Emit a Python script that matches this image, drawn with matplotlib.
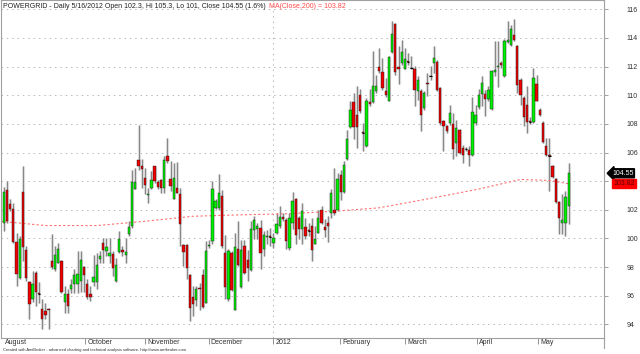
import numpy as np
import matplotlib.pyplot as plt
from matplotlib.lines import Line2D

plt.rcParams['font.family'] = ['Liberation Sans', 'DejaVu Sans']

# ── Daily OHLC, POWERGRID, late Aug 2011 .. 16 May 2012 ──────────────────────
opens = [
    101.05, 103.37, 102.42, 102.09, 99.74, 97.21, 103.23, 99.19, 96.95, 95.74,
    97.6, 96.2, 95.09, 94.9, 95.09, 98.42, 97.84, 98.3, 98.42, 95.58,
    96.09, 96.49, 96.84, 96.84, 97.02, 98.0, 96.84, 96.09, 96.95, 96.95,
    98.58, 99.7, 99.12, 98.77, 98.88, 97.02, 99.05, 99.19, 98.81, 100.28,
    100.86, 103.47, 105.51, 105.05, 104.23, 103.0, 103.49, 105.05, 103.95, 104.05,
    103.53, 105.79, 104.12, 102.77, 103.53, 103.07, 99.51, 99.51, 97.42, 95.91,
    95.7, 96.55, 97.42, 95.51, 99.45, 99.79, 102.14, 102.14, 102.98, 98.98,
    95.74, 98.98, 95.0, 99.28, 96.6, 99.44, 98.53, 97.79, 100.56, 100.63,
    100.74, 99.23, 100.1, 100.14, 99.7, 100.4, 100.86, 101.51, 101.28, 99.3,
    101.09, 102.72, 101.4, 100.63, 100.81, 100.58, 100.86, 99.58, 100.4, 102.02,
    100.81, 101.09, 101.79, 102.02, 102.02, 104.42, 103.26, 105.56, 107.77, 109.51,
    108.65, 110.05, 107.4, 106.44, 109.51, 109.51, 110.28, 112.0, 111.6, 110.33,
    109.63, 113.0, 115.0, 112.0, 112.26, 111.86, 112.37, 111.93, 111.86, 110.28,
    110.33, 109.12, 110.88, 111.35, 112.26, 112.3, 110.51, 108.23, 107.84, 108.07,
    108.0, 106.67, 107.6, 106.33, 106.28, 106.21, 105.81, 108.07, 109.16, 110.09,
    110.12, 109.74, 109.05, 111.63, 111.95, 112.26, 111.33, 113.72, 113.53, 114.23,
    113.47, 111.09, 109.81, 109.35, 108.18, 108.12, 110.81, 109.0, 108.07, 106.44,
    105.83, 105.09, 104.16, 102.53, 101.05, 101.09, 102.3,
]
highs = [
    103.6, 104.0, 102.74, 102.49, 100.4, 100.16, 105.05, 99.47, 97.02, 97.72,
    97.72, 96.95, 95.74, 95.51, 95.16, 100.28, 99.47, 99.7, 98.49, 96.67,
    96.44, 97.14, 97.84, 99.12, 99.12, 98.07, 97.14, 96.67, 98.86, 99.0,
    99.12, 100.05, 100.05, 100.05, 99.12, 98.65, 100.51, 99.47, 100.05, 101.21,
    104.81, 104.93, 107.95, 105.56, 104.93, 103.53, 104.7, 105.09, 104.05, 104.12,
    105.74, 107.02, 105.4, 105.28, 105.35, 103.53, 99.6, 99.6, 97.5, 96.67,
    96.67, 96.9, 97.84, 99.81, 99.9, 104.0, 102.72, 104.51, 103.4, 100.26,
    99.23, 99.12, 100.4, 101.21, 99.91, 99.91, 99.2, 101.21, 101.56, 101.09,
    101.3, 100.51, 100.6, 100.74, 100.4, 101.79, 102.26, 101.79, 101.44, 101.79,
    103.23, 102.84, 101.56, 102.49, 101.44, 101.09, 101.44, 100.86, 102.02, 102.26,
    101.33, 101.56, 103.42, 104.93, 104.58, 104.81, 105.4, 107.6, 109.58, 110.16,
    110.67, 110.44, 108.07, 109.81, 110.47, 113.07, 111.44, 113.3, 112.6, 111.2,
    112.72, 115.16, 115.05, 113.42, 113.88, 113.3, 112.93, 112.72, 112.05, 111.33,
    110.44, 110.28, 111.53, 112.02, 113.42, 112.49, 110.55, 108.3, 107.95, 109.35,
    108.77, 108.3, 107.65, 106.56, 106.4, 106.44, 109.88, 109.35, 110.44, 111.33,
    110.4, 110.63, 111.79, 113.77, 113.8, 112.4, 113.93, 115.16, 114.93, 115.33,
    113.53, 111.21, 109.93, 110.63, 108.5, 111.91, 111.44, 109.12, 108.19, 107.02,
    107.02, 105.16, 104.23, 102.6, 103.09, 103.3, 105.3,
]
lows = [
    100.5, 101.05, 101.9, 99.65, 96.67, 97.14, 98.42, 97.02, 94.35, 95.56,
    95.28, 95.51, 93.65, 94.35, 93.65, 97.84, 97.72, 98.26, 96.21, 94.81,
    94.81, 96.21, 96.21, 96.21, 96.26, 96.26, 95.74, 95.63, 96.67, 96.44,
    98.3, 98.3, 98.77, 98.3, 97.37, 96.95, 99.0, 98.77, 98.3, 100.16,
    100.74, 103.42, 104.81, 103.53, 103.07, 102.49, 103.42, 103.88, 103.42, 103.19,
    103.14, 105.28, 103.3, 102.74, 103.14, 99.5, 98.07, 97.14, 94.23, 94.58,
    95.28, 95.0, 95.16, 95.47, 99.3, 99.6, 102.07, 102.0, 99.33, 95.74,
    95.63, 96.3, 94.98, 98.07, 96.56, 97.49, 97.02, 97.72, 99.93, 99.93,
    97.84, 98.77, 99.6, 99.44, 99.33, 100.28, 100.74, 101.21, 99.23, 99.2,
    100.63, 99.58, 99.93, 99.58, 99.93, 100.16, 98.42, 99.58, 100.35, 100.98,
    100.07, 99.72, 101.44, 101.67, 101.91, 102.67, 103.19, 105.51, 107.72, 106.93,
    106.35, 108.77, 106.12, 106.4, 109.23, 109.47, 110.16, 111.56, 110.4, 109.88,
    109.58, 112.95, 111.44, 110.81, 112.14, 111.81, 112.14, 111.81, 109.23, 109.7,
    107.49, 109.0, 109.93, 111.09, 111.56, 110.28, 107.95, 106.09, 107.37, 107.95,
    105.53, 105.74, 105.88, 105.28, 106.1, 105.05, 105.74, 107.95, 109.05, 109.23,
    108.53, 109.58, 109.0, 111.33, 110.6, 111.9, 111.26, 113.65, 113.47, 113.77,
    110.16, 109.35, 107.84, 107.33, 108.0, 108.07, 109.58, 108.53, 106.67, 105.74,
    103.3, 104.23, 102.49, 100.28, 100.28, 100.16, 101.0,
]
closes = [
    103.23, 101.19, 102.07, 99.74, 97.49, 99.98, 99.42, 97.21, 95.4, 96.84,
    96.26, 96.12, 94.35, 94.63, 95.0, 98.0, 98.84, 99.28, 96.28, 96.09,
    95.28, 96.72, 97.42, 97.49, 98.51, 97.42, 95.91, 95.91, 97.3, 98.14,
    98.77, 99.19, 99.42, 99.0, 97.95, 98.14, 99.98, 99.05, 99.05, 100.79,
    103.93, 103.93, 105.05, 104.86, 103.7, 103.09, 104.09, 104.0, 103.58, 103.53,
    105.47, 105.4, 103.65, 104.19, 103.19, 100.98, 99.05, 97.95, 95.16, 95.44,
    96.44, 96.45, 95.23, 99.12, 99.55, 103.42, 102.65, 103.16, 99.44, 96.6,
    99.12, 96.37, 99.4, 98.14, 99.16, 97.6, 97.95, 100.67, 101.28, 100.86,
    98.98, 100.21, 100.2, 100.1, 100.05, 100.98, 101.51, 101.33, 99.81, 101.44,
    102.6, 100.23, 100.63, 101.95, 100.16, 100.54, 99.19, 99.93, 101.44, 101.09,
    100.58, 100.86, 103.19, 101.79, 104.12, 103.26, 105.12, 106.95, 109.0, 107.77,
    107.77, 108.88, 107.35, 109.63, 109.4, 110.67, 110.67, 111.67, 110.51, 110.0,
    112.65, 114.28, 111.6, 111.86, 113.0, 112.51, 112.3, 111.89, 110.35, 111.09,
    108.63, 110.16, 110.77, 111.31, 112.6, 110.4, 108.07, 107.84, 107.49, 108.77,
    106.26, 107.72, 105.98, 105.81, 106.24, 105.81, 108.81, 108.65, 110.05, 110.86,
    109.74, 110.4, 111.67, 111.79, 112.05, 112.12, 113.77, 113.84, 114.65, 113.84,
    110.74, 110.0, 108.47, 108.12, 108.14, 111.21, 109.63, 108.65, 106.74, 105.81,
    105.79, 104.28, 102.56, 101.4, 101.28, 102.88, 104.55,
]

# MA(Close,200) read at a few bars
ma_bars = [-0.8, 13, 29, 44, 59, 74, 88, 103, 117, 133, 148, 161, 170, 176]
ma_vals = [101.2, 100.9, 100.9, 101.2, 101.55, 101.65, 101.72, 101.9, 102.14,
           102.8, 103.45, 104.12, 104.05, 103.82]

# month labels (bar position of the month boundary)
month_names = ["August", "October", "November", "December", "2012",
               "February", "March", "April", "May"]
month_bars = [-0.3, 25.3, 44.1, 63.8, 84.0, 104.9, 125.1, 147.5, 166.4]

y_ticks = list(range(94, 117, 2))
last_close = 104.55
last_ma = 103.82

title = ("POWERGRID - Daily 5/16/2012 Open 102.3, Hi 105.3, Lo 101, "
         "Close 104.55 (1.6%)")
ma_title = "MA(Close,200) = 103.82"
footer = ("Created with AmiBroker - advanced charting and technical analysis "
          "software. http://www.amibroker.com")

# ── Figure ────────────────────────────────────────────────────────────────────
W, H = 640, 354
fig = plt.figure(figsize=(W / 100, H / 100), dpi=100)
ax = fig.add_axes([1 / W, (H - 337.7) / H, 603 / W, 337.7 / H])
ax.set_xlim(-0.84, 187.0)
ax.set_ylim(93.07, 116.65)

o = np.array(opens)
h = np.array(highs)
l = np.array(lows)
c = np.array(closes)
idx = np.arange(len(o))
up = c >= o
dn = ~up

# light shadow + wick
ax.vlines(idx, l, h, color="#dcdcdc", lw=2.3, zorder=1)
ax.vlines(idx, l, h, color="#858585", lw=0.7, zorder=2)

ax.bar(idx[up], (c - o)[up], bottom=o[up], width=0.72, color="#00ee00",
       edgecolor="#1a1a1a", lw=0.3, zorder=3)
ax.bar(idx[dn], (o - c)[dn], bottom=c[dn], width=0.72, color="#ee0000",
       edgecolor="#1a1a1a", lw=0.3, zorder=3)
doji = np.abs(c - o) < 0.08
ax.hlines(c[doji], idx[doji] - 0.36, idx[doji] + 0.36, color="black",
          lw=0.8, zorder=4)

# grid
grid_style = dict(color="#b8b8b8", lw=0.7, ls=(0, (1.5, 4)), zorder=0)
for v in y_ticks:
    ax.axhline(v, **grid_style)
ax.axvline(month_bars[4], **grid_style)

# moving average
ax.plot(ma_bars, ma_vals, color="#ff7070", lw=0.8, ls=(0, (2, 2)), zorder=2.5)

# axes look
for s in ax.spines.values():
    s.set_color("#a0a0a0")
    s.set_linewidth(0.8)
ax.yaxis.tick_right()
ax.set_yticks(y_ticks)
# the 104 label sits under the last-price tag
ax.set_yticklabels(["" if v == 104 else str(v) for v in y_ticks])
ax.tick_params(axis="y", length=3, width=0.6, color="#909090",
               labelsize=5, labelcolor="#303030", pad=13.5)
ax.set_xticks(month_bars[1:])
ax.set_xticklabels([])
ax.tick_params(axis="x", length=4, width=0.6, color="#808080")
for name, pos in zip(month_names, month_bars):
    ax.text(pos + 0.7, -0.004, name, transform=ax.get_xaxis_transform(),
            ha="left", va="top", fontsize=5, color="#303030")

# title
t1 = fig.text(3 / W, 1 - 6 / H, title, fontsize=5, va="center", color="#202020")
ax.annotate(ma_title, xy=(1, 0.5), xycoords=t1, xytext=(2, 0),
            textcoords="offset points", va="center", ha="left",
            fontsize=5, color="#ff4a4a")

# last value tags
ytr = ax.get_yaxis_transform()
ax.text(1 + 8 / 603, last_close, "104.55", transform=ytr, fontsize=5,
        color="white", va="center", ha="left", zorder=6, clip_on=False,
        bbox=dict(boxstyle="larrow,pad=0.15", fc="black", ec="black"))
ax.text(1 + 9 / 603, last_ma, "103.82", transform=ytr, fontsize=5,
        color="#5a0000", va="center", ha="left", zorder=6, clip_on=False,
        bbox=dict(boxstyle="square,pad=0.15", fc="#ff0000", ec="#ff0000"))

fig.add_artist(Line2D([604 / W, 604 / W], [1 - 337.7 / H, 1 - 348 / H],
                      color="#a0a0a0", lw=0.8))
fig.text(3 / W, 1 - 350 / H, footer, fontsize=2.9, va="center", color="#303030")

fig.savefig("out.png", dpi=100)
